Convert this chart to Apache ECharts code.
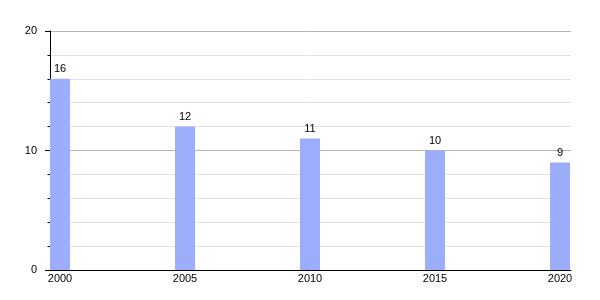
<!DOCTYPE html>
<html><head><meta charset="utf-8">
<script src="https://cdn.jsdelivr.net/npm/echarts@6/dist/echarts.min.js"></script>
<style>html,body{margin:0;padding:0;background:#fff}#c{width:600px;height:300px}</style>
</head><body><div id="c"></div>
<script>
const years = [2000, 2005, 2010, 2015, 2020];
const values = [16, 12, 11, 10, 9];
const yTicks = [0, 10, 20];

const chart = echarts.init(document.getElementById('c'), null, {renderer: 'canvas'});
const font = 'Liberation Sans, Arial, sans-serif';
chart.setOption({
  animation: false,
  grid: {left: 50, right: 29, top: 31, bottom: 30, containLabel: false},
  xAxis: {
    type: 'value', min: 1999.6, max: 2020.44,
    axisLine: {show: true, lineStyle: {color: '#000', width: 1}},
    axisTick: {show: false},
    splitLine: {show: false},
    axisLabel: {customValues: years, color: '#000', fontFamily: font, fontSize: 11, margin: 3,
      formatter: v => String(v)}
  },
  yAxis: {
    type: 'value', min: yTicks[0], max: yTicks[2], interval: 10,
    axisLine: {show: true, lineStyle: {color: '#000', width: 1}},
    axisTick: {show: true, length: 5, lineStyle: {color: '#000'}},
    minorTick: {show: true, splitNumber: 5, length: 2.5, lineStyle: {color: '#000'}},
    splitLine: {show: true, lineStyle: {color: '#b4b4b4', width: 1}},
    minorSplitLine: {show: true, lineStyle: {color: '#e2e2e2', width: 1}},
    axisLabel: {color: '#000', fontFamily: font, fontSize: 11, margin: 13}
  },
  series: [{
    type: 'bar',
    data: years.map((y, i) => [y, values[i]]),
    barWidth: 20,
    itemStyle: {color: '#9cadfc'},
    label: {show: true, position: 'top', distance: 4, color: '#000', fontFamily: font, fontSize: 11}
  }]
});
</script></body></html>
